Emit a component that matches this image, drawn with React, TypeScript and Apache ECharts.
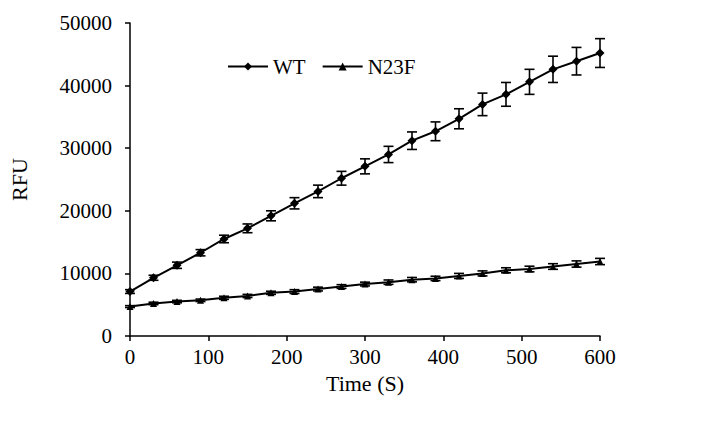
import React, { useEffect, useRef } from "react";
import * as echarts from "echarts";

const times = [0, 30, 60, 90, 120, 150, 180, 210, 240, 270, 300, 330, 360, 390, 420, 450, 480, 510, 540, 570, 600];
const wtValues = [7100, 9300, 11300, 13300, 15500, 17200, 19200, 21200, 23100, 25200, 27100, 29000, 31200, 32700, 34700, 37000, 38600, 40600, 42600, 43900, 45200];
const wtErrors = [300, 400, 500, 500, 600, 700, 800, 900, 1000, 1100, 1200, 1300, 1400, 1500, 1600, 1800, 1900, 2000, 2100, 2200, 2300];
const n23fValues = [4700, 5200, 5500, 5700, 6100, 6400, 6900, 7100, 7500, 7900, 8300, 8600, 9000, 9200, 9600, 10000, 10500, 10700, 11100, 11500, 11900];
const n23fErrors = [150, 200, 200, 200, 250, 250, 250, 300, 300, 300, 300, 350, 350, 350, 400, 400, 400, 450, 450, 500, 500];
const xTicks = [0, 100, 200, 300, 400, 500, 600];
const yTicks = [0, 10000, 20000, 30000, 40000, 50000];

const FONT = "'Liberation Serif', 'DejaVu Serif', serif";

function errorSeries(values: number[], errors: number[]) {
  return {
    type: "custom",
    silent: true,
    z: 3,
    data: times.map((t, i) => [t, values[i] - errors[i], values[i] + errors[i]]),
    renderItem: (params: any, api: any) => {
      const x = api.value(0);
      const lo = api.coord([x, api.value(1)]);
      const hi = api.coord([x, api.value(2)]);
      const w = 5;
      const style = { stroke: "#000", lineWidth: 1.6 };
      return {
        type: "group",
        children: [
          { type: "line", shape: { x1: lo[0], y1: lo[1], x2: hi[0], y2: hi[1] }, style },
          { type: "line", shape: { x1: lo[0] - w, y1: lo[1], x2: lo[0] + w, y2: lo[1] }, style },
          { type: "line", shape: { x1: hi[0] - w, y1: hi[1], x2: hi[0] + w, y2: hi[1] }, style },
        ],
      };
    },
  };
}

export default function App() {
  const ref = useRef<HTMLDivElement>(null);
  useEffect(() => {
    if (!ref.current) return;
    const chart = echarts.init(ref.current, null, { renderer: "svg" });
    chart.setOption({
      animation: false,
      backgroundColor: "#fff",
      textStyle: { fontFamily: FONT },
      grid: { left: 128, right: 105, top: 23, bottom: 91 },
      legend: {
        data: ["WT", "N23F"],
        left: 222,
        top: 51,
        itemWidth: 40,
        itemHeight: 10,
        itemGap: 16,
        textStyle: { fontFamily: FONT, fontSize: 21, color: "#000" },
      },
      xAxis: {
        type: "value",
        min: xTicks[0],
        max: xTicks[xTicks.length - 1],
        interval: 100,
        name: "Time (S)",
        nameLocation: "middle",
        nameGap: 36,
        nameTextStyle: { fontFamily: FONT, fontSize: 22, color: "#000" },
        axisLine: { show: true, lineStyle: { color: "#000", width: 1.5 } },
        axisTick: { show: true, length: 5, lineStyle: { color: "#000", width: 1.5 } },
        axisLabel: { fontFamily: FONT, fontSize: 21, color: "#000", margin: 10, formatter: (v: number) => String(v) },
        splitLine: { show: false },
      },
      yAxis: {
        type: "value",
        min: yTicks[0],
        max: yTicks[yTicks.length - 1],
        interval: 10000,
        name: "RFU",
        nameLocation: "middle",
        nameGap: 100,
        nameRotate: 90,
        nameTextStyle: { fontFamily: FONT, fontSize: 22, color: "#000" },
        axisLine: { show: true, lineStyle: { color: "#000", width: 1.5 } },
        axisTick: { show: true, length: 5, lineStyle: { color: "#000", width: 1.5 } },
        axisLabel: { fontFamily: FONT, fontSize: 21, color: "#000", margin: 18, formatter: (v: number) => String(v) },
        splitLine: { show: false },
      },
      series: [
        {
          name: "WT",
          type: "line",
          data: times.map((t, i) => [t, wtValues[i]]),
          symbol: "diamond",
          symbolSize: 9,
          lineStyle: { color: "#000", width: 2 },
          itemStyle: { color: "#000" },
          z: 4,
        },
        {
          name: "N23F",
          type: "line",
          data: times.map((t, i) => [t, n23fValues[i]]),
          symbol: "triangle",
          symbolSize: 7,
          lineStyle: { color: "#000", width: 2 },
          itemStyle: { color: "#000" },
          z: 4,
        },
        errorSeries(wtValues, wtErrors),
        errorSeries(n23fValues, n23fErrors),
      ],
    });
    return () => chart.dispose();
  }, []);
  return <div ref={ref} style={{ position: "absolute", left: 0, top: 0, width: 705, height: 427 }} />;
}
